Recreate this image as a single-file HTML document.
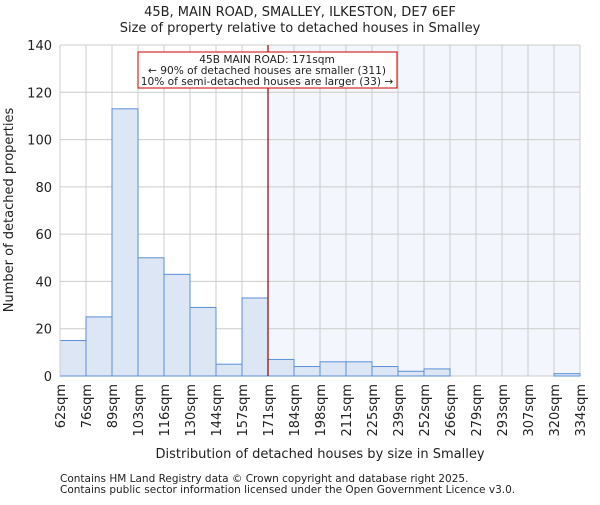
<!DOCTYPE html>
<html><head><meta charset="utf-8"><style>
body{margin:0;background:#fff;}
svg text{font-family:"DejaVu Sans","Liberation Sans",sans-serif;fill:#222;}
</style></head><body>
<svg width="600" height="500" viewBox="0 0 600 500">
<rect x="269" y="45" width="311" height="331" fill="#f3f6fd"/>
<g id="grid"></g>
<g id="bars"></g>
<line x1="60" y1="45" x2="60" y2="376" stroke="#ccc"/>
<line id="marker" y1="45" y2="376" stroke="#880000" stroke-width="1.2"/>
<g id="ticks"></g>
<text x="300" y="16" font-size="13" text-anchor="middle">45B, MAIN ROAD, SMALLEY, ILKESTON, DE7 6EF</text>
<text x="300" y="32" font-size="13" text-anchor="middle">Size of property relative to detached houses in Smalley</text>
<text x="320" y="458" font-size="13" text-anchor="middle">Distribution of detached houses by size in Smalley</text>
<text transform="translate(13,210) rotate(-90)" font-size="13" text-anchor="middle">Number of detached properties</text>
<g>
<rect x="138" y="52" width="259" height="36" fill="#fff" stroke="#cc0000" stroke-width="1"/>
<text x="267" y="63" font-size="10.6" text-anchor="middle">45B MAIN ROAD: 171sqm</text>
<text x="267" y="74" font-size="10.6" text-anchor="middle">← 90% of detached houses are smaller (311)</text>
<text x="267" y="85" font-size="10.6" text-anchor="middle">10% of semi-detached houses are larger (33) →</text>
</g>
<text x="60" y="482" font-size="10.5">Contains HM Land Registry data © Crown copyright and database right 2025.</text>
<text x="60" y="493" font-size="10.5">Contains public sector information licensed under the Open Government Licence v3.0.</text>
</svg>
<script>
const edgeLabels=["62sqm","76sqm","89sqm","103sqm","116sqm","130sqm","144sqm","157sqm","171sqm","184sqm","198sqm","211sqm","225sqm","239sqm","252sqm","266sqm","279sqm","293sqm","307sqm","320sqm","334sqm"];
const counts=[15,25,113,50,43,29,5,33,7,4,6,6,4,2,3,0,0,0,0,1];
const yTicks=[0,20,40,60,80,100,120,140];
const markerIndex=8;
const NS="http://www.w3.org/2000/svg";
const x0=60,x1=580,yb=376,yt=45,ymax=140;
const bw=(x1-x0)/counts.length;
const X=i=>x0+i*bw;
const Y=v=>yb-(v/ymax)*(yb-yt);
function mk(t,a,p){const e=document.createElementNS(NS,t);for(const k in a)e.setAttribute(k,a[k]);p.appendChild(e);return e;}
const grid=document.getElementById('grid'),bars=document.getElementById('bars'),ticks=document.getElementById('ticks');
yTicks.forEach(v=>{
 const l=mk('line',{x1:x0,x2:x1,y1:Y(v),y2:Y(v),stroke:'#ccc'},grid);
 
 
 const t=mk('text',{x:x0-8,y:Y(v)+5,'font-size':13,'text-anchor':'end'},ticks);
 t.textContent=v;
 
 
});
edgeLabels.forEach((s,i)=>{
 const l=mk('line',{x1:X(i),x2:X(i),y1:yt,y2:yb,stroke:'#ccc'},grid);
 
 
 const t=mk('text',{transform:`translate(${X(i)+5},${yb+8}) rotate(-90)`,'font-size':13,'text-anchor':'end'},ticks);
 t.textContent=s;
 
 
});
counts.forEach((c,i)=>{
 if(c<=0)return;
 const r=mk('rect',{x:X(i),y:Y(c),width:bw,height:yb-Y(c),fill:'#dce6f4',stroke:'#5b8fd6','stroke-width':1},bars);
 
 
});
const m=document.getElementById('marker');m.setAttribute('x1',X(markerIndex));m.setAttribute('x2',X(markerIndex));
</script>
</body></html>
